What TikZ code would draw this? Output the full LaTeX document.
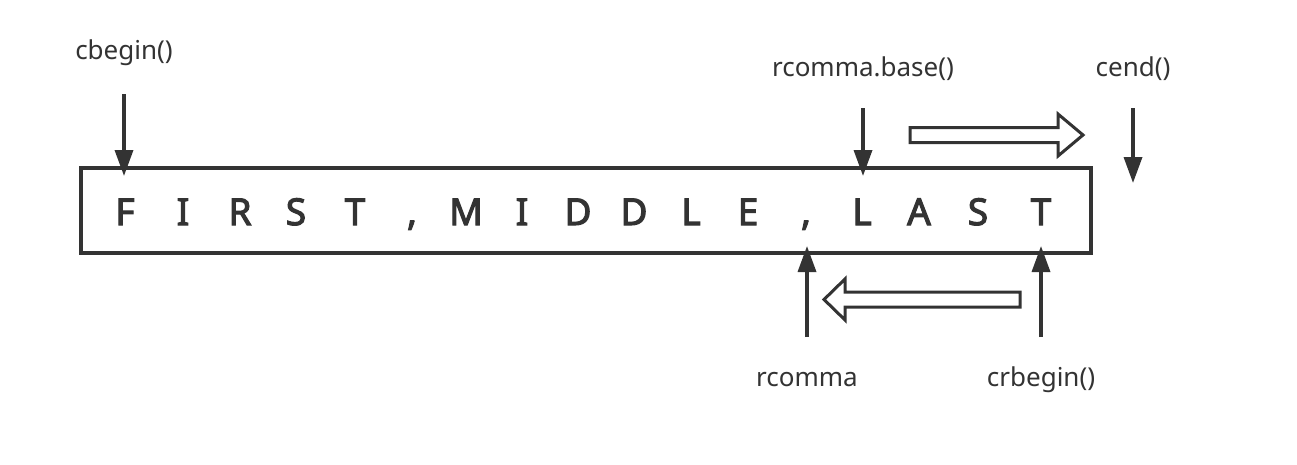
\documentclass[tikz,border=0pt]{standalone}
\usepackage{fontspec}
\setmainfont{Noto Sans}
\newfontfamily\chfont[FakeBold=3]{Noto Sans}
\usetikzlibrary{arrows.meta}
\definecolor{ink}{HTML}{333333}
\begin{document}
\begin{tikzpicture}[x=1pt,y=-1pt,
  lbl/.style={font=\fontsize{26}{30}\selectfont, text=ink, inner sep=0pt},
  chr/.style={font=\chfont\fontsize{37}{40}\selectfont, text=ink, inner sep=0pt, anchor=base},
  ptr/.style={draw=ink, line width=3.5pt, -{Triangle[length=26pt,width=18pt]}},
  hollow/.style={draw=ink, line width=3pt, fill=white, line join=miter}]
\useasboundingbox (0,0) rectangle (1297,464);
% box
\node[draw=ink, line width=4pt, minimum width=1010pt, minimum height=85pt, inner sep=0pt] (str) at (586,210.5) {};
% characters
\foreach \c/\x [count=\i] in {F/125,I/183,R/240,S/296,T/355,{,}/412,M/466,I/522,D/578,D/634,L/691,E/748,{,}/806,L/862,A/919,S/978,T/1041}
  \node[chr] (c\i) at (\x,225) {\c};
% labels
\node[lbl] (cb) at (124,53) {cbegin()};
\node[lbl] (rb) at (863,69) {rcomma.base()};
\node[lbl] (ce) at (1133,69) {cend()};
\node[lbl] (rc) at (807,380) {rcomma};
\node[lbl] (cr) at (1041,380) {crbegin()};
% arrow endpoints
\coordinate (cbs) at (124,94);
\coordinate (cbt) at (124,176);
\coordinate (rbs) at (863,108);
\coordinate (rbt) at (863,176);
\coordinate (ces) at (1133,108);
\coordinate (cet) at (1133,183);
\coordinate (rcs) at (807,337);
\coordinate (rct) at (807,246);
\coordinate (crs) at (1041,337);
\coordinate (crt) at (1041,246);
\draw[ptr] (cbs) -- (cbt);
\draw[ptr] (rbs) -- (rbt);
\draw[ptr] (ces) -- (cet);
\draw[ptr] (rcs) -- (rct);
\draw[ptr] (crs) -- (crt);
% hollow arrows
\draw[hollow] (910,127.5) -- (1058,127.5) -- (1058,114) -- (1083,135) -- (1058,156) -- (1058,142.5) -- (910,142.5) -- cycle;
\draw[hollow] (1020,292) -- (845,292) -- (845,279) -- (824,299.5) -- (845,320) -- (845,307) -- (1020,307) -- cycle;
\end{tikzpicture}
\end{document}
